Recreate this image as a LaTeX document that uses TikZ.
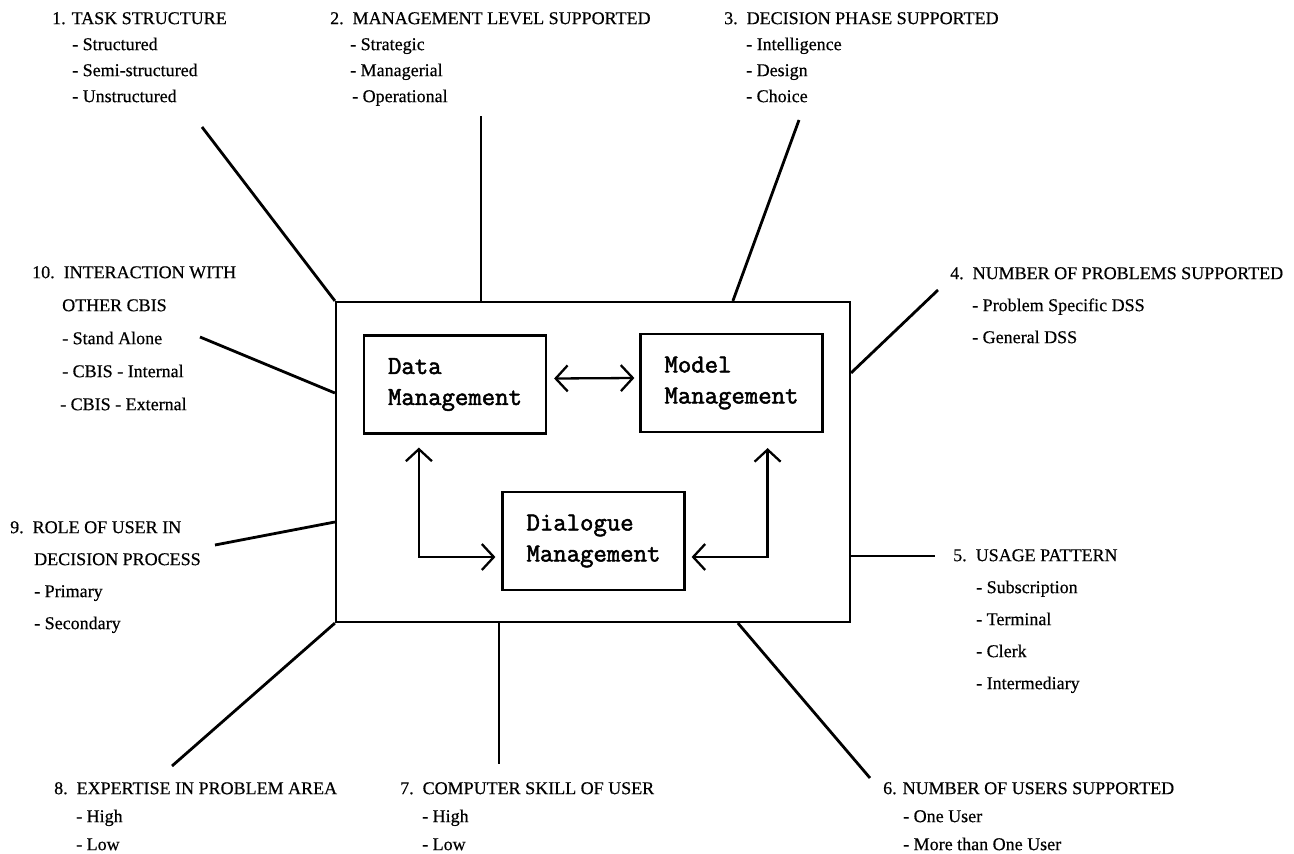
\documentclass[tikz,border=0pt]{standalone}
\usepackage{fontspec}
\setmainfont{Liberation Serif}[FakeBold=0.5]
\newfontfamily\modfont{Latin Modern Mono}[FakeBold=2]
\usetikzlibrary{arrows.meta}
\begin{document}
\begin{tikzpicture}[x=1pt,y=-1pt,
  lbl/.style={anchor=north west, inner sep=0pt, align=left,
    font=\fontsize{18}{#1}\selectfont},
  frame/.style={draw, line width=2.2pt, minimum width=514pt, minimum height=320pt, inner sep=0pt},
  module/.style={draw, line width=2.2pt, minimum width=182pt, minimum height=98pt,
    inner sep=0pt, align=left, font=\fontsize{26}{31}\selectfont\modfont},
  spoke/.style={line width=2.8pt},
  biarrow/.style={{Straight Barb[length=12pt,width=26pt]}-{Straight Barb[length=12pt,width=26pt]},
    line width=2.3pt}
]
\useasboundingbox (0,0) rectangle (1294,854);

% DSS core: frame and the three management modules
\node[frame] (main) at (593,462) {};
\node[module] (data) at (455,384.5) {Data\\Management};
\node[module] (model) at (731.5,383) {Model\\Management};
\node[module] (dialog) at (593.5,541) {Dialogue\\Management};

\draw[biarrow] ([shift={(7,-6)}]data.east) -- ([shift={(-5,-5)}]model.west);
\draw[biarrow] ([shift={(56,13)}]data.south west) |- ([shift={(-6,16)}]dialog.west);
\draw[biarrow] ([shift={(-56,15)}]model.south east) |- ([shift={(6,16)}]dialog.east);

% classification dimensions
\node[lbl=26] (t1) at (52,12) {1. TASK STRUCTURE\\
  \hspace*{20pt}- Structured\\
  \hspace*{20pt}- Semi-structured\\
  \hspace*{20pt}- Unstructured};
\node[lbl=26] (t2) at (330,12) {2.\ \ MANAGEMENT LEVEL SUPPORTED\\
  \hspace*{20pt}- Strategic\\
  \hspace*{20pt}- Managerial\\
  \hspace*{22pt}- Operational};
\node[lbl=26] (t3) at (724,12) {3.\ \ DECISION PHASE SUPPORTED\\
  \hspace*{22pt}- Intelligence\\
  \hspace*{22pt}- Design\\
  \hspace*{22pt}- Choice};
\node[lbl=32] (t4) at (950,267) {4.\ \ NUMBER OF PROBLEMS SUPPORTED\\
  \hspace*{22pt}- Problem Specific DSS\\
  \hspace*{22pt}- General DSS};
\node[lbl=32] (t5) at (953,549) {5.\ \ USAGE PATTERN\\
  \hspace*{23pt}- Subscription\\
  \hspace*{23pt}- Terminal\\
  \hspace*{23pt}- Clerk\\
  \hspace*{23pt}- Intermediary};
\node[lbl=28] (t6) at (883,782) {6. NUMBER OF USERS SUPPORTED\\
  \hspace*{20pt}- One User\\
  \hspace*{20pt}- More than One User};
\node[lbl=28] (t7) at (400,782) {7.\ \ COMPUTER SKILL OF USER\\
  \hspace*{22pt}- High\\
  \hspace*{22pt}- Low};
\node[lbl=28] (t8) at (54,782) {8.\ \ EXPERTISE IN PROBLEM AREA\\
  \hspace*{22pt}- High\\
  \hspace*{22pt}- Low};
\node[lbl=32] (t9) at (10,521) {9.\ \ ROLE OF USER IN\\
  \hspace*{24pt}DECISION PROCESS\\
  \hspace*{24pt}- Primary\\
  \hspace*{24pt}- Secondary};
\node[lbl=33] (t10) at (32,266) {10.\ \ INTERACTION WITH\\
  \hspace*{30pt}OTHER CBIS\\
  \hspace*{30pt}- Stand Alone\\
  \hspace*{30pt}- CBIS - Internal\\
  \hspace*{28pt}- CBIS - External};

% spokes from the frame towards each dimension
\coordinate (e1) at (202,127);
\coordinate (e2) at (481,116);
\coordinate (e3) at (799,120);
\coordinate (e4) at (938,290);
\coordinate (e5) at (935,556);
\coordinate (e6) at (870,778);
\coordinate (e7) at (499,764);
\coordinate (e8) at (172,766);
\coordinate (e9) at (215,545);
\coordinate (e10) at (200,337);

\draw[spoke] (main.north west) -- (e1);
\draw[spoke] (main.north west -| e2) -- (e2);
\draw[spoke] ([xshift=398pt]main.north west) -- (e3);
\draw[spoke] ([yshift=-72pt]main.north east) -- (e4);
\draw[spoke] (main.east |- e5) -- (e5);
\draw[spoke] ([xshift=403pt]main.south west) -- (e6);
\draw[spoke] (main.south west -| e7) -- (e7);
\draw[spoke] (main.south west) -- (e8);
\draw[spoke] ([yshift=-60pt]main.west) -- (e9);
\draw[spoke] ([yshift=69pt]main.west) -- (e10);
\end{tikzpicture}
\end{document}
